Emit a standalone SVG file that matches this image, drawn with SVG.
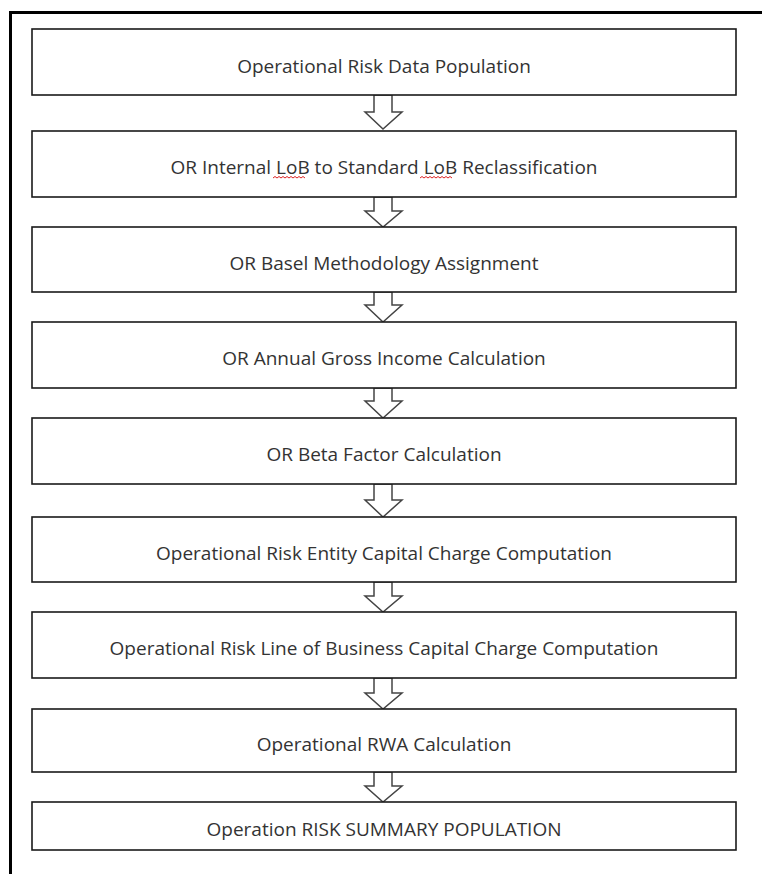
<svg xmlns="http://www.w3.org/2000/svg" width="762" height="874" viewBox="0 0 762 874">
<style>
.box{fill:#fff;stroke:#1a1a1a;stroke-width:1.6}
.lbl{font-family:"Open Sans","Liberation Sans",Arial,sans-serif;font-size:19px;fill:#333;text-anchor:middle}
.arr{fill:#fff;stroke:#444;stroke-width:1.5;stroke-linejoin:miter}
.frame{stroke:#000;stroke-width:3;fill:none}
.wavy{fill:none;stroke:#d22;stroke-width:1}
</style>
<rect width="762" height="874" fill="#fff"/>
<path class="frame" d="M10.5,874 V12.5 H762"/>
<g id="connectors">
<path class="arr" d="M374,95 H392 V112 H402 L383,129 L365,112 H374 Z"/>
<path class="arr" d="M374,197 H392 V211 H402 L383,227 L365,211 H374 Z"/>
<path class="arr" d="M374,292 H392 V305 H402 L383,322 L365,305 H374 Z"/>
<path class="arr" d="M374,388 H392 V401 H402 L383,418 L365,401 H374 Z"/>
<path class="arr" d="M374,484 H392 V500 H402 L383,517 L365,500 H374 Z"/>
<path class="arr" d="M374,582 H392 V596 H402 L383,612 L365,596 H374 Z"/>
<path class="arr" d="M374,678 H392 V693 H402 L383,709 L365,693 H374 Z"/>
<path class="arr" d="M374,772 H392 V786 H402 L383,802 L365,786 H374 Z"/>
</g>
<g id="n1"><rect class="box" x="32" y="29" width="704" height="66"/><text class="lbl" x="384" y="73">Operational Risk Data Population</text></g>
<g id="n2"><rect class="box" x="32" y="131" width="704" height="66"/><text class="lbl" x="384" y="174">OR Internal LoB to Standard LoB Reclassification</text>
<path class="wavy" d="M273,178 l2,-1.5 l2,1.5 l2,-1.5 l2,1.5 l2,-1.5 l2,1.5 l2,-1.5 l2,1.5 l2,-1.5 l2,1.5 l2,-1.5 l2,1.5 l2,-1.5 l2,1.5 l2,-1.5 l2,1.5"/>
<path class="wavy" d="M420,178 l2,-1.5 l2,1.5 l2,-1.5 l2,1.5 l2,-1.5 l2,1.5 l2,-1.5 l2,1.5 l2,-1.5 l2,1.5 l2,-1.5 l2,1.5 l2,-1.5 l2,1.5 l2,-1.5 l2,1.5"/></g>
<g id="n3"><rect class="box" x="32" y="227" width="704" height="65"/><text class="lbl" x="384" y="270">OR Basel Methodology Assignment</text></g>
<g id="n4"><rect class="box" x="32" y="322" width="704" height="66"/><text class="lbl" x="384" y="365">OR Annual Gross Income Calculation</text></g>
<g id="n5"><rect class="box" x="32" y="418" width="704" height="66"/><text class="lbl" x="384" y="461">OR Beta Factor Calculation</text></g>
<g id="n6"><rect class="box" x="32" y="517" width="704" height="65"/><text class="lbl" x="384" y="560">Operational Risk Entity Capital Charge Computation</text></g>
<g id="n7"><rect class="box" x="32" y="612" width="704" height="66"/><text class="lbl" x="384" y="655">Operational Risk Line of Business Capital Charge Computation</text></g>
<g id="n8"><rect class="box" x="32" y="709" width="704" height="63"/><text class="lbl" x="384" y="751">Operational RWA Calculation</text></g>
<g id="n9"><rect class="box" x="32" y="802" width="704" height="48"/><text class="lbl" x="384" y="836">Operation RISK SUMMARY POPULATION</text></g>
</svg>
